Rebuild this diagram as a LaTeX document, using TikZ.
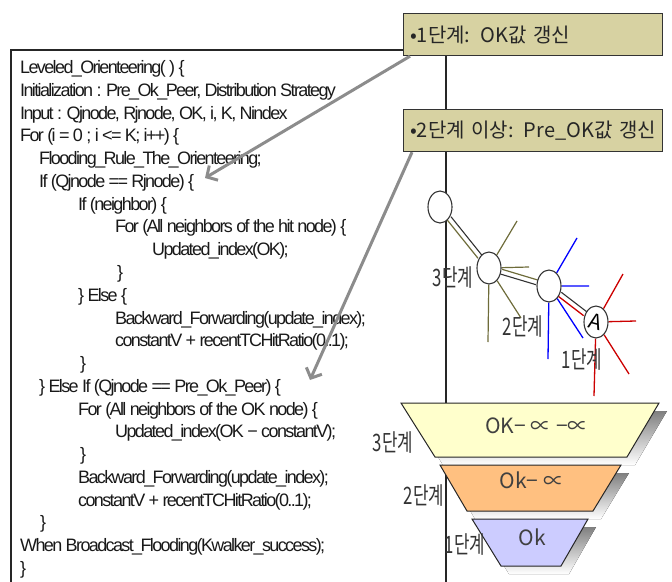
\documentclass[tikz,border=0pt]{standalone}
\usepackage{fontspec}
\setmainfont{Liberation Sans}
\newfontfamily\codefont[LetterSpace=-9]{Liberation Sans}
\newfontfamily\krfont{Noto Sans CJK KR}
\newfontfamily\krnarrow[FakeStretch=0.7]{Noto Sans CJK KR}
\newfontfamily\symfont{DejaVu Sans}
\usetikzlibrary{arrows.meta,shapes.geometric,backgrounds}
\definecolor{boxfill}{RGB}{215,210,162}
\definecolor{arrowgray}{RGB}{140,140,140}
\definecolor{olivelink}{RGB}{110,108,58}
\definecolor{bluelink}{RGB}{0,0,255}
\definecolor{redlink}{RGB}{204,0,0}
\definecolor{bandtop}{RGB}{255,255,204}
\definecolor{bandmid}{RGB}{255,192,128}
\definecolor{bandlow}{RGB}{204,204,255}
\definecolor{shade}{RGB}{128,128,128}
\begin{document}
\begin{tikzpicture}[x=1pt,y=-1pt,
  code/.style={anchor=base west,inner sep=0pt,text=black!90,
    font=\codefont\fontsize{18}{22}\selectfont},
  kbox/.style={draw=black!80,line width=1.2pt,fill=boxfill,anchor=north west,
    minimum height=42pt,text width=246pt,inner xsep=6.5pt,align=left,
    text=black!85,font=\krfont\fontsize{20}{22}\selectfont},
  garrow/.style={draw=arrowgray,line width=3pt,
    -{Straight Barb[length=8pt,width=17pt]}},
  peer/.style={ellipse,draw=black!80,fill=white,line width=1.1pt,inner sep=0pt,
    minimum width=24pt,minimum height=32pt},
  darklink/.style={draw=black!80,line width=1.1pt},
  olive/.style={draw=olivelink,line width=1.2pt},
  blue/.style={draw=bluelink,line width=1.3pt},
  red/.style={draw=redlink,line width=1.3pt},
  level/.style={text=black!80,inner sep=0pt,font=\krnarrow\fontsize{24}{24}\selectfont},
  band/.style={draw=black!85,line width=1pt},
  bandtext/.style={text=black!75,inner sep=0pt,font=\krfont\fontsize{21}{22}\selectfont}
]
\useasboundingbox (0,0) rectangle (672,581);

% frame around the pseudo-code
\draw[black!85,line width=1.1pt] (11,595) -- (11,50) -- (446,50) -- (446,595);

% pseudo-code
\node[code] (c1)  at (20,73.5)  {Leveled\_Orienteering( ) \{};
\node[code] (c2)  at (20,96.3)  {Initialization : Pre\_Ok\_Peer, Distribution Strategy};
\node[code] (c3)  at (20,119.0) {Input : Qjnode, Rjnode, OK, i, K, Nindex};
\node[code] (c4)  at (20,141.8) {For (i = 0 ; i <= K; i++) \{};
\node[code] (c5)  at (39,164.6) {Flooding\_Rule\_The\_Orienteering;};
\node[code] (c6)  at (39,187.4) {If (Qjnode == Rjnode) \{};
\node[code] (c7)  at (78,210.1) {If (neighbor) \{};
\node[code] (c8)  at (115,232.9) {For (All neighbors of the hit node) \{};
\node[code] (c9)  at (152,255.7) {Updated\_index(OK);};
\node[code] (c10) at (117,278.4) {\}};
\node[code] (c11) at (78,301.2) {\} Else \{};
\node[code] (c12) at (115,324.0) {Backward\_Forwarding(update\_index);};
\node[code] (c13) at (115,346.7) {constantV + recentTCHitRatio(0..1);};
\node[code] (c14) at (80,369.5) {\}};
\node[code] (c15) at (39,392.3) {\} Else If (Qjnode == Pre\_Ok\_Peer) \{};
\node[code] (c16) at (78,415.1) {For (All neighbors of the OK node) \{};
\node[code] (c17) at (115,437.8) {Updated\_index(OK − constantV);};
\node[code] (c18) at (80,460.6) {\}};
\node[code] (c19) at (78,483.4) {Backward\_Forwarding(update\_index);};
\node[code] (c20) at (78,506.1) {constantV + recentTCHitRatio(0..1);};
\node[code] (c21) at (40,528.9) {\}};
\node[code] (c22) at (20,551.7) {When Broadcast\_Flooding(Kwalker\_success);};
\node[code] (c23) at (20,574.4) {\}};

% stage boxes
\node[kbox] (b1) at (403,13)  {•1단계: OK값 갱신};
\node[kbox] (b2) at (403,109) {•2단계 이상: Pre\_OK값 갱신};

% pointers into the code
\coordinate (t1) at (205,178);
\coordinate (t2) at (310,380);
\draw[garrow] ([xshift=7pt]b1.south west) -- (t1);
\draw[garrow] ([xshift=9pt]b2.south west) -- (t2);

% peers of the walk
\node[peer] (n1) at (440,207) {};
\node[peer] (n2) at (489,268) {};
\node[peer] (n3) at (549,286) {};
\node[peer] (n4) at (596,322) {\rotatebox{-15}{\krfont\fontsize{21}{22}\selectfont A}};

\coordinate (o1) at (517,221);
\coordinate (o2) at (529,267);
\coordinate (o3) at (521,318);
\coordinate (o4) at (488,342);
\coordinate (u1) at (577,238);
\coordinate (u2) at (589,286);
\coordinate (u3) at (583,338);
\coordinate (u4) at (548,359);
\coordinate (r1) at (623,274);
\coordinate (r2) at (636,321);
\coordinate (r3) at (629,374);
\coordinate (r4) at (594,396);

\begin{scope}[on background layer]
  \draw[darklink,transform canvas={xshift=1.9pt,yshift=1.6pt}] (n1) -- (n2);
  \draw[olive,transform canvas={xshift=-1.9pt,yshift=-1.6pt}] (n1) -- (n2);
  \draw[olive,transform canvas={xshift=0.7pt,yshift=2.4pt}] (n2) -- (n3);
  \draw[darklink,transform canvas={xshift=-0.7pt,yshift=-2.4pt}] (n2) -- (n3);
  \draw[darklink,transform canvas={xshift=1.5pt,yshift=2pt}] (n3) -- (n4);
  \draw[red,transform canvas={xshift=-1.5pt,yshift=-2pt}] (n3) -- (n4);
  \draw[olive] (n2) -- (o1) (n2) -- (o2) (n2) -- (o3) (n2) -- (o4);
  \draw[blue] (n3) -- (u1) (n3) -- (u2) (n3) -- (u3) (n3) -- (u4);
  \draw[red] (n4) -- (r1) (n4) -- (r2) (n4) -- (r3) (n4) -- (r4);
\end{scope}

\node[level] (w3) at (453,278) {3단계};
\node[level] (w2) at (523,327) {2단계};
\node[level] (w1) at (582,360) {1단계};

% layered funnel with drop shadow
\fill[shade] (409,411) -- (667,411) -- (635,465) -- (443,465) -- cycle;
\fill[shade] (448,473) -- (629,473) -- (601,519) -- (475,519) -- cycle;
\fill[shade] (480,527) -- (596,527) -- (569,574) -- (509,574) -- cycle;
\draw[band,fill=bandtop] (401,403) -- (659,403) -- (627,457) -- (435,457) -- cycle;
\draw[band,fill=bandmid] (440,465) -- (621,465) -- (593,511) -- (467,511) -- cycle;
\draw[band,fill=bandlow] (472,519) -- (588,519) -- (561,566) -- (501,566) -- cycle;

\node[bandtext] (f3) at (537,426) {OK− ∝ −∝};
\node[bandtext] (f2) at (532,480) {Ok− ∝};
\node[bandtext] (f1) at (532,537) {Ok};

\node[level] (s3) at (393,443) {3단계};
\node[level] (s2) at (424,496) {2단계};
\node[level] (s1) at (465,545) {1단계};
\end{tikzpicture}
\end{document}
